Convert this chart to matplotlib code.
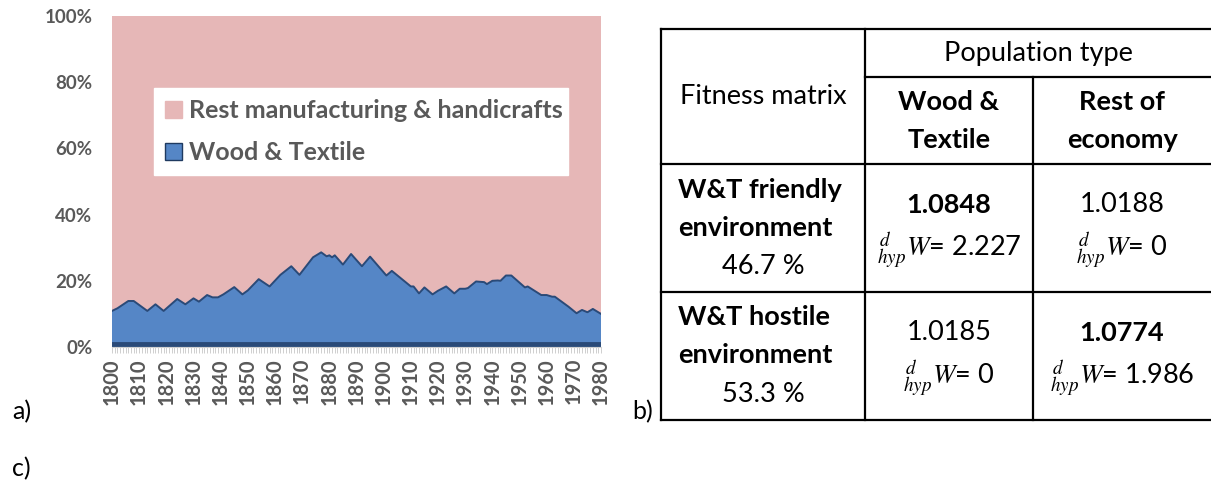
import numpy as np
import matplotlib
matplotlib.use('Agg')
from matplotlib import pyplot as plt
from matplotlib.patches import Patch, Rectangle

plt.rcParams['font.family'] = ['Lato', 'DejaVu Sans']
plt.rcParams['mathtext.fontset'] = 'stix'

# share of Wood & Textile (%)
years = [1800, 1802, 1806, 1808, 1813, 1816, 1819, 1824, 1827, 1830, 1832, 1835,
         1837, 1839, 1841, 1845, 1848, 1850, 1854, 1858, 1862, 1866, 1869, 1874,
         1877, 1879, 1880, 1881, 1882, 1885, 1888, 1892, 1895, 1901, 1903, 1910,
         1911, 1913, 1915, 1918, 1920, 1923, 1926, 1928, 1930, 1931, 1934, 1937,
         1938, 1940, 1942, 1943, 1945, 1947, 1952, 1953, 1958, 1960, 1962, 1963,
         1968, 1971, 1973, 1975, 1977, 1980]
wood_textile = [10.9, 11.7, 13.9, 13.9, 10.9, 12.9, 10.9, 14.5, 12.9, 14.7, 13.7, 15.7,
                15.0, 15.0, 15.9, 18.1, 15.9, 17.1, 20.5, 18.3, 21.8, 24.4, 21.8, 27.1,
                28.6, 27.4, 27.7, 27.1, 27.7, 24.9, 28.1, 24.4, 27.3, 21.6, 23.0, 18.3,
                18.3, 16.2, 18.0, 15.9, 17.0, 18.3, 16.2, 17.6, 17.6, 17.8, 19.8, 19.6,
                19.0, 20.0, 20.1, 20.0, 21.6, 21.6, 18.0, 18.3, 15.7, 15.7, 15.2, 15.2,
                12.2, 10.2, 11.2, 10.5, 11.5, 10.0]
rest = [100 - v for v in wood_textile]
series_labels = ["Wood & Textile", "Rest manufacturing & handicrafts"]
decades = list(range(1800, 1981, 10))
yticks = [0, 20, 40, 60, 80, 100]

# table contents
header_left = "Fitness matrix"
header_top = "Population type"
col_heads = [["Wood &", "Textile"], ["Rest of", "economy"]]
row_heads = [["W&T friendly", "environment", "46.7 %"],
             ["W&T hostile", "environment", "53.3 %"]]
fitness = [["1.0848", "1.0188"], ["1.0185", "1.0774"]]
fitness_bold = [[True, False], [False, True]]
dw = [["2.227", "0"], ["0", "1.986"]]

W, H = 1211, 488
fig = plt.figure(figsize=(W / 100, H / 100), dpi=100)

blue = '#5586C6'
pink = '#E6B7B7'
gray = '#595959'

ax = fig.add_axes([112 / W, 1 - 347 / H, (601 - 112) / W, (347 - 16) / H])
ax.stackplot(years, wood_textile, rest, colors=[blue, pink], labels=series_labels)
ax.plot(years, wood_textile, color='#2A4A78', lw=1.4)
ax.axhline(0.8, color='#2A4A78', lw=3.5)
ax.set_xlim(1800, 1980)
ax.set_ylim(0, 100)
for s in ['top', 'right', 'left']:
    ax.spines[s].set_visible(False)
ax.spines['bottom'].set_color('#D0D0D0')
ax.set_yticks(yticks)
ax.set_yticklabels([f"{v}%" for v in yticks], fontsize=13.5, fontweight='bold', color=gray)
ax.tick_params(axis='y', length=0, pad=14)
ax.set_xticks(decades)
ax.set_xticklabels([str(d) for d in decades], rotation=90, fontsize=14.5,
                   fontweight='bold', color=gray)
ax.set_xticks(range(1800, 1981), minor=True)
ax.tick_params(axis='x', which='both', length=4, color='#C8C8C8', width=0.6, pad=4)

handles = [Patch(facecolor=pink, edgecolor=pink),
           Patch(facecolor=blue, edgecolor='#1F3A60')]
leg = ax.legend(handles, [series_labels[1], series_labels[0]],
                loc='upper left', bbox_to_anchor=(0.086, 0.498, 0.846, 0.284),
                mode='expand', prop={'size': 18, 'weight': 'bold'},
                labelcolor=gray, frameon=True, fancybox=False, framealpha=1,
                edgecolor='white', handlelength=0.65, handleheight=0.65,
                handletextpad=0.3, labelspacing=0.75, borderpad=0.45, borderaxespad=0)

# overlay in pixel coordinates for the table and panel letters
ov = fig.add_axes([0, 0, 1, 1])
ov.set_xlim(0, W)
ov.set_ylim(H, 0)
ov.axis('off')

L, C1, C2, R = 661, 865, 1033, 1211
T, HS, HB, RB, B = 29, 77, 164, 292, 420
lw = 1.6
ov.plot([L, R], [T, T], color='k', lw=lw)
ov.plot([L, R], [B, B], color='k', lw=lw)
ov.plot([L, R], [HB, HB], color='k', lw=lw)
ov.plot([L, R], [RB, RB], color='k', lw=lw)
ov.plot([C1, R], [HS, HS], color='k', lw=lw)
ov.plot([L, L], [T, B], color='k', lw=lw)
ov.plot([C1, C1], [T, B], color='k', lw=lw)
ov.plot([C2, C2], [HS, B], color='k', lw=lw)

fs = 19.5
ov.text((L + C1) / 2, 97, header_left, ha='center', va='center', fontsize=fs)
ov.text((C1 + R) / 2, 53, header_top, ha='center', va='center', fontsize=fs)
for j, xc in enumerate([(C1 + C2) / 2, (C2 + R) / 2]):
    ov.text(xc, 102, col_heads[j][0], ha='center', va='center', fontsize=fs, fontweight='bold')
    ov.text(xc, 140, col_heads[j][1], ha='center', va='center', fontsize=fs, fontweight='bold')

row_y = [[190, 228, 267], [317, 355, 395]]
val_y = [[205, 250], [333, 378]]
for i in range(2):
    ov.text(678, row_y[i][0], row_heads[i][0], ha='left', va='center', fontsize=fs, fontweight='bold')
    ov.text(678, row_y[i][1], row_heads[i][1], ha='left', va='center', fontsize=fs, fontweight='bold')
    ov.text((L + C1) / 2, row_y[i][2], row_heads[i][2], ha='center', va='center', fontsize=fs)
    for j, xc in enumerate([(C1 + C2) / 2, (C2 + R) / 2]):
        ov.text(xc, val_y[i][0], fitness[i][j], ha='center', va='center', fontsize=fs,
                fontweight='bold' if fitness_bold[i][j] else 'normal')
        ov.text(xc, val_y[i][1], r'${}_{hyp}^{\,d}W$' + '= ' + dw[i][j], ha='center',
                va='center', fontsize=fs)

ov.text(12, 412, "a)", ha='left', va='center', fontsize=18)
ov.text(632, 412, "b)", ha='left', va='center', fontsize=18)
ov.text(12, 469, "c)", ha='left', va='center', fontsize=18)

fig.savefig('out.png', dpi=100)
